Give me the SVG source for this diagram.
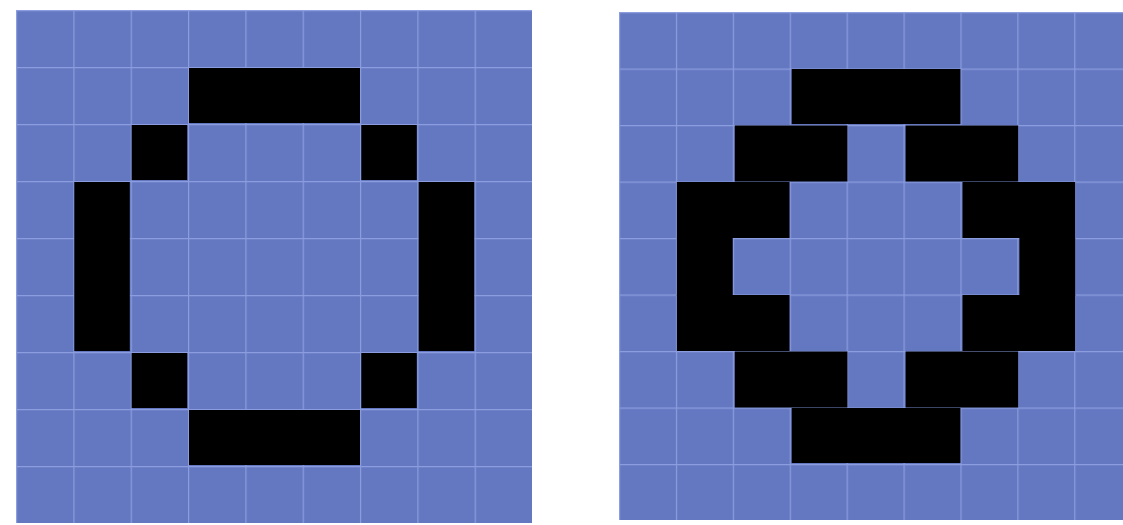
<svg xmlns="http://www.w3.org/2000/svg" width="1123" height="525" viewBox="0 0 1123 525">
<style>
.bg{fill:#6478C2}
.gl{stroke:#8B9DDE;stroke-width:2}
.on{fill:#000000}
</style>
<defs>
<pattern id="gridL" x="16" y="10" width="57.33" height="57" patternUnits="userSpaceOnUse">
<rect width="57.33" height="57" fill="#6478C2"/>
<path d="M0 0H57.33M0 0V57" stroke="#8B9DDE" stroke-width="2.4" fill="none"/>
</pattern>
<pattern id="gridR" x="619" y="12" width="56.9" height="56.5" patternUnits="userSpaceOnUse">
<rect width="56.9" height="56.5" fill="#6478C2"/>
<path d="M0 0H56.9M0 0V56.5" stroke="#8B9DDE" stroke-width="2.4" fill="none"/>
</pattern>
</defs>
<rect width="1123" height="525" fill="#ffffff"/>
<g id="grid-left">
<rect x="16" y="10" width="516" height="513" fill="url(#gridL)"/>
<g class="on">
<rect x="189" y="68" width="171" height="55"/>
<rect x="131.7" y="125" width="55.5" height="55"/>
<rect x="361.3" y="125" width="55.5" height="55"/>
<rect x="74.3" y="182" width="55.5" height="169"/>
<rect x="418.7" y="182" width="55.5" height="169"/>
<rect x="131.7" y="353" width="55.5" height="55"/>
<rect x="361.3" y="353" width="55.5" height="55"/>
<rect x="189" y="410" width="171" height="55"/>
</g>
</g>
<g id="grid-right">
<rect x="619" y="12" width="504" height="508" fill="url(#gridR)"/>
<g class="on">
<rect x="791.7" y="69" width="168.7" height="55"/>
<rect x="734.8" y="125.5" width="112.6" height="56"/>
<rect x="905.6" y="125.5" width="112.6" height="56"/>
<rect x="676.9" y="182" width="112.6" height="56"/>
<rect x="962.5" y="182" width="112.6" height="56"/>
<rect x="676.9" y="238" width="55.8" height="58"/>
<rect x="1019.4" y="238" width="55.8" height="58"/>
<rect x="676.9" y="295" width="112.6" height="56"/>
<rect x="962.5" y="295" width="112.6" height="56"/>
<rect x="734.8" y="351.5" width="112.6" height="56"/>
<rect x="905.6" y="351.5" width="112.6" height="56"/>
<rect x="791.7" y="408" width="168.7" height="55"/>
</g>
</g>
</svg>
